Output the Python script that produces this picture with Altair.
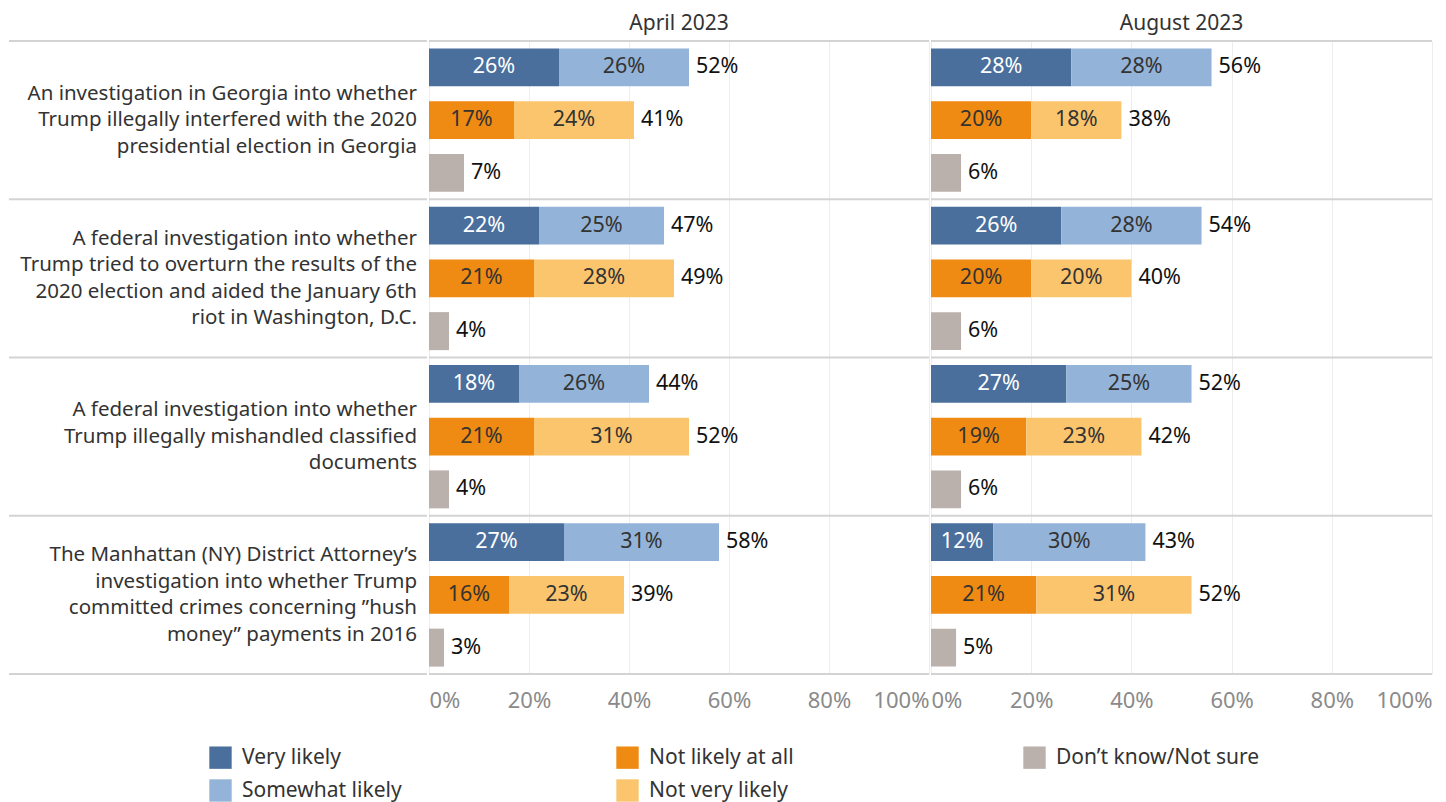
import altair as alt
import pandas as pd

questions = [
    "An investigation in Georgia into whether\nTrump illegally interfered with the 2020\npresidential election in Georgia",
    "A federal investigation into whether\nTrump tried to overturn the results of the\n2020 election and aided the January 6th\nriot in Washington, D.C.",
    "A federal investigation into whether\nTrump illegally mishandled classified\ndocuments",
    "The Manhattan (NY) District Attorney’s\ninvestigation into whether Trump\ncommitted crimes concerning ”hush\nmoney” payments in 2016",
]
periods = ["April 2023", "August 2023"]
segments = ["Very likely", "Somewhat likely", "Not likely at all", "Not very likely", "Don’t know/Not sure"]
segment_colors = ["#4a6f9c", "#93b4d8", "#ef8a12", "#fbc56e", "#bab0ac"]
groups = ["Likely", "Not likely", "Unsure"]

apr_very_likely = [26, 22, 18, 27]
apr_somewhat_likely = [26, 25, 26, 31]
apr_not_likely_at_all = [17, 21, 21, 16]
apr_not_very_likely = [24, 28, 31, 23]
apr_dont_know = [7, 4, 4, 3]

aug_very_likely = [28, 26, 27, 12.4]
aug_somewhat_likely = [28, 28, 25, 30.4]
aug_not_likely_at_all = [20, 20, 19, 21]
aug_not_very_likely = [18, 20, 23, 31]
aug_dont_know = [6, 6, 6, 5]

series = {
    "April 2023": [apr_very_likely, apr_somewhat_likely, apr_not_likely_at_all, apr_not_very_likely, apr_dont_know],
    "August 2023": [aug_very_likely, aug_somewhat_likely, aug_not_likely_at_all, aug_not_very_likely, aug_dont_know],
}
group_members = [("Likely", [0, 1]), ("Not likely", [2, 3]), ("Unsure", [4])]

bar_rows, total_rows = [], []
for p in periods:
    vals = series[p]
    for qi, q in enumerate(questions):
        for g, members in group_members:
            start = 0
            for si in members:
                v = vals[si][qi]
                bar_rows.append(dict(period=p, q=q, group=g, segment=segments[si],
                                     start=start, end=start + v, mid=start + v / 2,
                                     label=f"{round(v)}%", inside=len(members) > 1))
                start += v
            total_rows.append(dict(period=p, q=q, group=g, total=start, tlabel=f"{round(start)}%"))

bars_df = pd.DataFrame(bar_rows)
totals_df = pd.DataFrame(total_rows)
q_df = pd.DataFrame({"q": questions, "nlines": [q.count("\n") + 1 for q in questions]})

FONT = "Noto Sans"
H = 633
LINE = "#d3d3d3"
LH = 26.5

yscale = alt.Scale(domain=questions, paddingInner=0, paddingOuter=0)


def rules():
    top = alt.Chart(q_df).mark_rule(color=LINE, strokeWidth=2).encode(
        y=alt.Y("q:N", scale=yscale, bandPosition=0, axis=None)
    )
    bottom = alt.Chart(q_df).transform_filter(
        alt.datum.q == questions[-1]
    ).mark_rule(color=LINE, strokeWidth=2).encode(
        y=alt.Y("q:N", scale=yscale, bandPosition=1, axis=None)
    )
    return [top, bottom]


def panel(p, width, show_legend):
    d = bars_df[bars_df.period == p]
    t = totals_df[totals_df.period == p]
    y = alt.Y("q:N", scale=yscale,
              axis=alt.Axis(labels=False, ticks=False, title=None, domain=True,
                            domainColor="#e2e2e2", domainWidth=1.5, grid=False))
    yo = alt.YOffset("group:N", sort=groups, scale=alt.Scale(domain=groups, paddingInner=0.28, paddingOuter=0.14))
    xs = alt.Scale(domain=[0, 100], nice=False)
    x = alt.X("start:Q", scale=xs,
              axis=alt.Axis(values=[0, 20, 40, 60, 80, 100], labelExpr="datum.value + '%'",
                            grid=True, gridColor="#ededed", gridWidth=1, domain=False, ticks=False,
                            labelFlush=True, labelPadding=16, labelFontSize=22, labelColor="#8a8a8a",
                            labelFont=FONT, title=None))
    if show_legend:
        legend = alt.Legend(orient="none", legendX=200, legendY=705, columns=3, gridAlign="all",
                            columnPadding=170, rowPadding=10, symbolType="square", symbolSize=500,
                            symbolStrokeWidth=0, symbolOpacity=1, labelFontSize=21, labelColor="#333333",
                            labelFont=FONT, labelOffset=10, title=None, padding=0, labelLimit=400)
    else:
        legend = None
    bars = alt.Chart(d).mark_bar(opacity=1).encode(
        y=y, yOffset=yo, x=x, x2="end:Q",
        color=alt.Color("segment:N", scale=alt.Scale(domain=segments, range=segment_colors), legend=legend),
    )
    inside = alt.Chart(d).transform_filter(alt.datum.inside).mark_text(
        fontSize=21.5, font=FONT, baseline="middle", align="center"
    ).encode(
        y=alt.Y("q:N", scale=yscale), yOffset=yo,
        x=alt.X("mid:Q", scale=xs),
        text="label:N",
        color=alt.condition(alt.datum.segment == "Very likely", alt.value("#ffffff"), alt.value("#333333")),
    )
    totals = alt.Chart(t).mark_text(
        fontSize=21.5, font=FONT, baseline="middle", align="left", dx=7, color="#111111"
    ).encode(
        y=alt.Y("q:N", scale=yscale), yOffset=yo,
        x=alt.X("total:Q", scale=xs),
        text="tlabel:N",
    )
    return alt.layer(bars, *rules(), inside, totals).properties(
        width=width, height=H,
        title=alt.TitleParams(p, fontSize=21, fontWeight="normal", color="#333333", font=FONT, offset=6),
    )


def label_layer(n):
    return alt.Chart(q_df).transform_filter(alt.datum.nlines == n).mark_text(
        align="right", baseline="middle", lineBreak="\n", fontSize=20.5,
        lineHeight=LH, font=FONT, color="#333333", dy=-(n - 1) * LH / 2,
    ).encode(
        y=alt.Y("q:N", scale=yscale, axis=None),
        x=alt.value(408),
        text="q:N",
    )


labels = alt.layer(
    *[label_layer(n) for n in sorted(set(q_df.nlines))],
    *rules(),
).properties(
    width=418, height=H,
    title=alt.TitleParams(" ", fontSize=21, fontWeight="normal", font=FONT, offset=6),
)

chart = alt.hconcat(labels, panel("April 2023", 500, True), panel("August 2023", 501, False), spacing=0).resolve_scale(
    color="shared"
).properties(
    padding={"left": 0, "top": 5, "right": 0, "bottom": 0}
).configure(font=FONT).configure_view(stroke=None)

chart.save("out.html", embed_options={"renderer": "svg", "actions": False})
